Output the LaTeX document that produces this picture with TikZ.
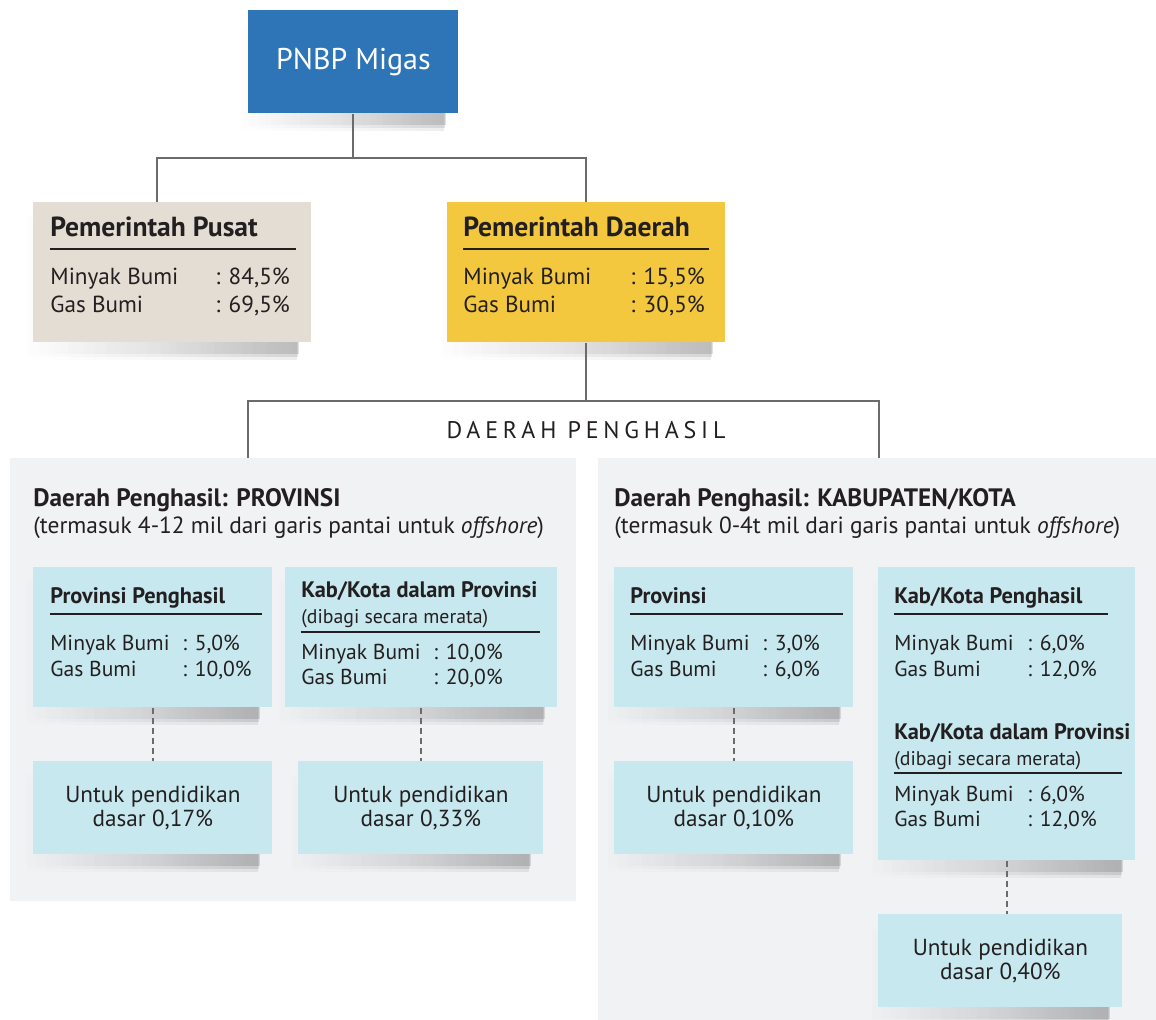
\documentclass[tikz,border=0pt]{standalone}
\usepackage{fontspec}
\setmainfont{PT Sans}
\usetikzlibrary{positioning,shadows,fadings}
\definecolor{migasblue}{HTML}{2E75B8}
\definecolor{pusatbeige}{HTML}{E3DDD3}
\definecolor{daerahgold}{HTML}{F3C83F}
\definecolor{panelgray}{HTML}{F1F2F4}
\definecolor{infoblue}{HTML}{C7E8EF}
\definecolor{linegray}{HTML}{6B6B6B}
\definecolor{inkdark}{HTML}{231F20}
\tikzfading[name=shfade, left color=transparent!100, right color=transparent!0, middle color=transparent!60]
\tikzset{
  panel/.style={anchor=north west, rectangle, fill=panelgray, inner sep=0pt},
  blk/.style={anchor=north west, rectangle, inner sep=0pt, text=inkdark},
  shad/.style={
    drop shadow={shadow xshift=-7pt, shadow yshift=-9pt, fill=black, opacity=.07, path fading=shfade},
    drop shadow={shadow xshift=-6.5pt, shadow yshift=-7.5pt, fill=black, opacity=.1, path fading=shfade},
    drop shadow={shadow xshift=-6pt, shadow yshift=-6pt, fill=black, opacity=.12, path fading=shfade}},
  ttl/.style={anchor=base west, inner sep=0pt, text=inkdark, font=\bfseries\fontsize{13.8}{16}\selectfont},
  txt/.style={anchor=base west, inner sep=0pt, text=inkdark, font=\fontsize{11.6}{14}\selectfont},
  ptl/.style={anchor=base west, inner sep=0pt, text=inkdark, font=\bfseries\fontsize{12.6}{14}\selectfont},
  psub/.style={anchor=base west, inner sep=0pt, text=inkdark, font=\fontsize{11.7}{14}\selectfont},
  ittl/.style={anchor=base west, inner sep=0pt, text=inkdark, font=\bfseries\fontsize{11.2}{13}\selectfont},
  isub/.style={anchor=base west, inner sep=0pt, text=inkdark, font=\fontsize{9.9}{12}\selectfont},
  itxt/.style={anchor=base west, inner sep=0pt, text=inkdark, font=\fontsize{10.8}{13}\selectfont},
  dik/.style={blk, shad, fill=infoblue, minimum height=46.5pt, align=center, font=\fontsize{11.6}{12}\selectfont},
  rule/.style={draw=inkdark, line width=0.6pt},
  conn/.style={draw=linegray, line width=1pt},
  dconn/.style={draw=linegray, line width=1pt, dash pattern=on 3pt off 2pt},
}
\begin{document}
\begin{tikzpicture}[x=0.5pt,y=-0.5pt]
\useasboundingbox (0,0) rectangle (1156,1020);
% panels
\node[panel, minimum width=283pt, minimum height=221.5pt] (provpanel) at (10,458) {};
\node[panel, minimum width=279pt, minimum height=281pt] (kabpanel) at (598,458) {};

% top level
\node[blk, shad, fill=migasblue, minimum width=105pt, minimum height=51.5pt, text=white, font=\fontsize{15}{18}\selectfont] (mig) at (248,10) {PNBP Migas};
\node[blk, shad, fill=pusatbeige, minimum width=139pt, minimum height=70pt] (pusat) at (33,202) {};
\node[blk, shad, fill=daerahgold, minimum width=139pt, minimum height=70pt] (daerah) at (447,202) {};

\node[ttl] (pusatT) at (50,237) {Pemerintah Pusat};
\draw[rule] (50,249) -- (296,249);
\node[txt] (pusatM) at (50,285) {Minyak Bumi};
\node[txt] (pusatMv) at (215,285) {: 84,5\%};
\node[txt] (pusatG) at (50,313) {Gas Bumi};
\node[txt] (pusatGv) at (215,313) {: 69,5\%};

\node[ttl] (daerahT) at (463,237) {Pemerintah Daerah};
\draw[rule] (463,249) -- (709,249);
\node[txt] (daerahM) at (463,285) {Minyak Bumi};
\node[txt] (daerahMv) at (630,285) {: 15,5\%};
\node[txt] (daerahG) at (463,313) {Gas Bumi};
\node[txt] (daerahGv) at (630,313) {: 30,5\%};

\draw[conn] (mig.south) -- ++(0,44) coordinate (topjoin);
\draw[conn] ([xshift=62pt]pusat.north west) |- (topjoin) -| (daerah.north);
\draw[conn] (daerah.south) -- ++(0,58) coordinate (midjoin);
\draw[conn] ([xshift=119pt]provpanel.north west) |- (midjoin) -| ([xshift=140.5pt]kabpanel.north west);
\node[text=inkdark, font=\fontsize{12}{14}\selectfont\addfontfeatures{LetterSpace=20}] (dplabel) at (586,430) {DAERAH PENGHASIL};

% provinsi panel
\node[ptl] (provT) at (33,507) {Daerah Penghasil: PROVINSI};
\node[psub] (provS) at (33,534) {(termasuk 4-12 mil dari garis pantai untuk \textit{offshore})};

\node[blk, shad, fill=infoblue, minimum width=119.5pt, minimum height=70pt] (provhasil) at (33,567) {};
\node[ittl] (provhasilT) at (50,604) {Provinsi Penghasil};
\draw[rule] (50,614) -- (262,614);
\node[itxt] (provhasilM) at (50,651) {Minyak Bumi};
\node[itxt] (provhasilMv) at (182,651) {: 5,0\%};
\node[itxt] (provhasilG) at (50,676) {Gas Bumi};
\node[itxt] (provhasilGv) at (182,676) {: 10,0\%};

\node[blk, shad, fill=infoblue, minimum width=136pt, minimum height=70pt] (provkab) at (285,567) {};
\node[ittl] (provkabT) at (301,598) {Kab/Kota dalam Provinsi};
\node[isub] (provkabS) at (301,624) {(dibagi secara merata)};
\draw[rule] (301,632) -- (540,632);
\node[itxt] (provkabM) at (301,660) {Minyak Bumi};
\node[itxt] (provkabMv) at (433,660) {: 10,0\%};
\node[itxt] (provkabG) at (301,685) {Gas Bumi};
\node[itxt] (provkabGv) at (433,685) {: 20,0\%};

\node[dik, minimum width=119.5pt] (provdik) at (33,761) {Untuk pendidikan\\dasar 0,17\%};
\node[dik, minimum width=122.5pt] (provkabdik) at (298,761) {Untuk pendidikan\\dasar 0,33\%};
\draw[dconn] (provhasil.south) -- (provdik.north);
\draw[dconn] (provkab.south) -- (provkab.south |- provkabdik.north);

% kabupaten/kota panel
\node[ptl] (kabT) at (614,507) {Daerah Penghasil: KABUPATEN/KOTA};
\node[psub] (kabS) at (614,534) {(termasuk 0-4t mil dari garis pantai untuk \textit{offshore})};

\node[blk, shad, fill=infoblue, minimum width=119.5pt, minimum height=70pt] (kprov) at (614,567) {};
\node[ittl] (kprovT) at (630,604) {Provinsi};
\draw[rule] (630,614) -- (843,614);
\node[itxt] (kprovM) at (630,651) {Minyak Bumi};
\node[itxt] (kprovMv) at (762,651) {: 3,0\%};
\node[itxt] (kprovG) at (630,676) {Gas Bumi};
\node[itxt] (kprovGv) at (762,676) {: 6,0\%};

\node[blk, shad, fill=infoblue, minimum width=128.5pt, minimum height=146.5pt] (khasil) at (878,567) {};
\node[ittl] (khasilT) at (894,604) {Kab/Kota Penghasil};
\draw[rule] (894,614) -- (1108,614);
\node[itxt] (khasilM) at (894,651) {Minyak Bumi};
\node[itxt] (khasilMv) at (1027,651) {: 6,0\%};
\node[itxt] (khasilG) at (894,676) {Gas Bumi};
\node[itxt] (khasilGv) at (1027,676) {: 12,0\%};
\node[ittl] (kkabT) at (894,740) {Kab/Kota dalam Provinsi};
\node[isub] (kkabS) at (894,765) {(dibagi secara merata)};
\draw[rule] (894,773) -- (1122,773);
\node[itxt] (kkabM) at (894,801) {Minyak Bumi};
\node[itxt] (kkabMv) at (1027,801) {: 6,0\%};
\node[itxt] (kkabG) at (894,826) {Gas Bumi};
\node[itxt] (kkabGv) at (1027,826) {: 12,0\%};

\node[dik, minimum width=119.5pt] (kprovdik) at (614,761) {Untuk pendidikan\\dasar 0,10\%};
\node[dik, minimum width=122pt] (khasildik) at (878,914) {Untuk pendidikan\\dasar 0,40\%};
\draw[dconn] (kprov.south) -- (kprovdik.north);
\draw[dconn] (khasil.south) -- (khasil.south |- khasildik.north);
\end{tikzpicture}
\end{document}
